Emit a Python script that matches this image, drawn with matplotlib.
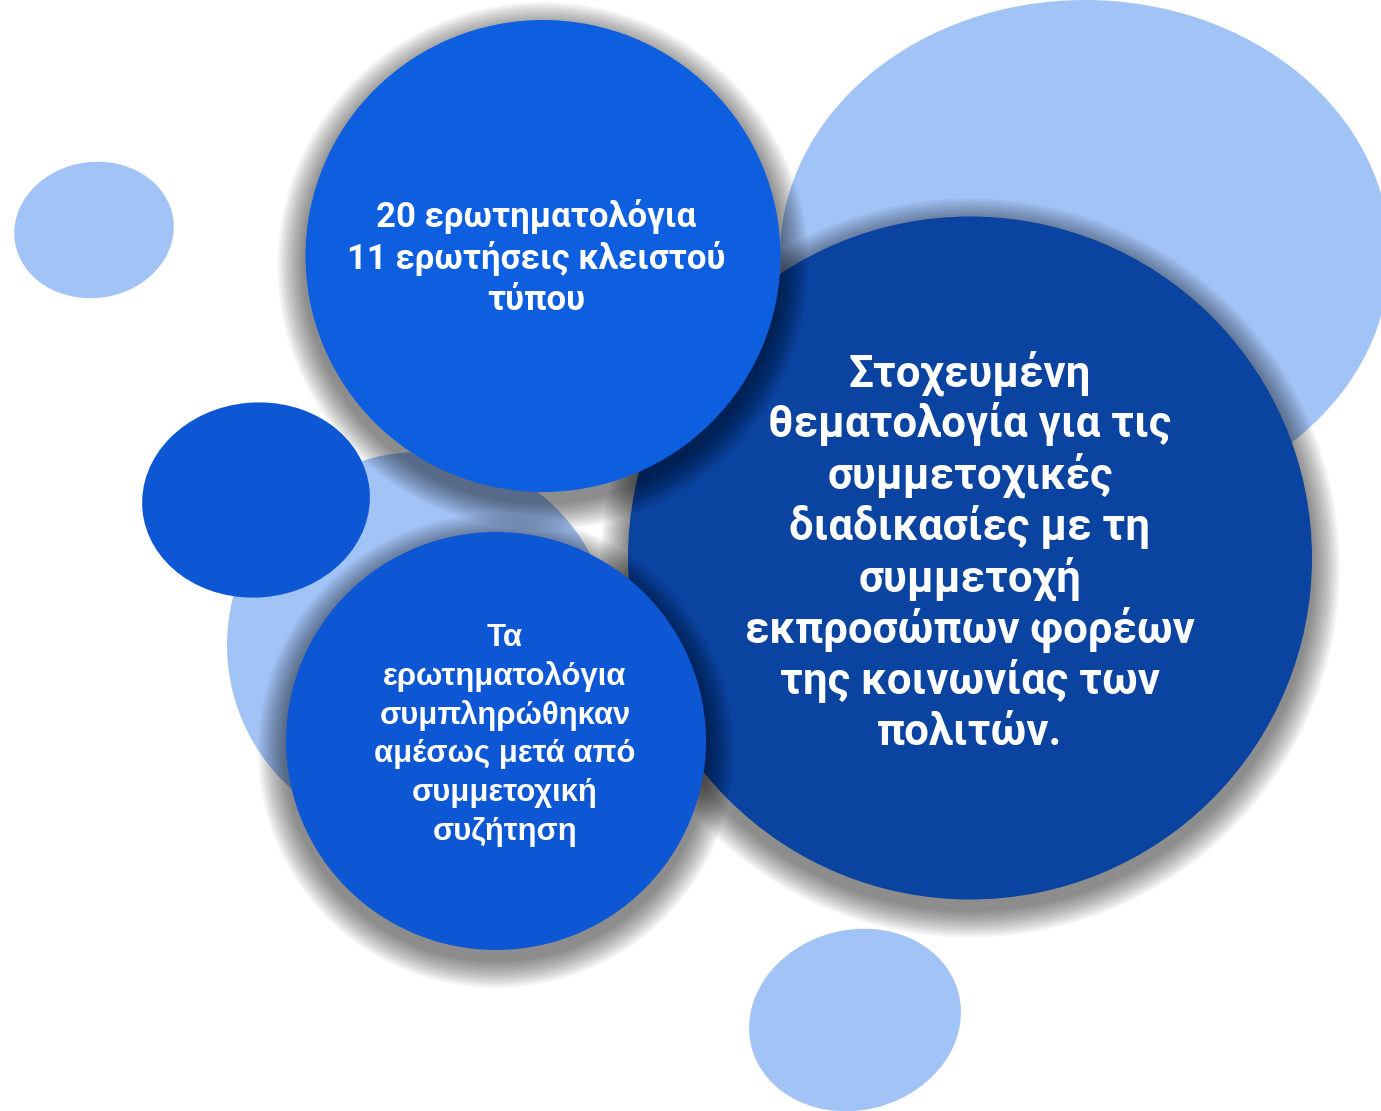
import matplotlib
matplotlib.use("Agg")
import matplotlib.pyplot as plt
from matplotlib.patches import Ellipse

# shapes (pixel space, y down): name, center x, center y, width, height, angle, colour, shadow
names = ["light_tl", "light_bottom", "light_right", "light_mid",
         "dark_big", "blue_top", "blue_left", "blue_bottom"]
cx = [94, 855, 1085, 420, 970, 543, 256, 496]
cy = [230, 1020, 255, 645, 558, 256, 500, 741]
w = [160, 214, 610, 386, 684, 475, 228, 420]
h = [136, 180, 510, 386, 683, 472, 195, 418]
ang = [-8, -15, 0, 0, 0, 0, -5, 0]
colors = ["#a2c3f6", "#a2c3f6", "#a2c3f6", "#a2c3f6",
          "#0b43a0", "#0e5fdf", "#0d57d4", "#0d57d4"]
shadow = [False, False, False, False, True, True, False, True]

# texts
top_lines = ["20 ερωτηματολόγια", "11 ερωτήσεις κλειστού", "τύπου"]
right_lines = ["Στοχευμένη", "θεματολογία για τις", "συμμετοχικές",
               "διαδικασίες με τη", "συμμετοχή", "εκπροσώπων φορέων",
               "της κοινωνίας των", "πολιτών."]
bottom_lines = ["Τα", "ερωτηματολόγια", "συμπληρώθηκαν",
                "αμέσως μετά από", "συμμετοχική", "συζήτηση"]

fig = plt.figure(figsize=(13.81, 11.11), dpi=100)
ax = fig.add_axes([0, 0, 1, 1])
ax.set_xlim(0, 1381)
ax.set_ylim(1111, 0)
ax.axis("off")

z = 1
for i in range(len(names)):
    if shadow[i]:
        # soft shadow: stacked transparent ellipses, shifted down a bit
        for k in range(14):
            grow = 2 * (28 - 2 * k)
            ax.add_patch(Ellipse((cx[i], cy[i] + 10), w[i] + grow, h[i] + grow,
                                 angle=ang[i], facecolor="black", edgecolor="none",
                                 alpha=0.04, zorder=z))
        z += 1
    ax.add_patch(Ellipse((cx[i], cy[i]), w[i], h[i], angle=ang[i],
                         facecolor=colors[i], edgecolor="none", zorder=z))
    z += 1

def block(lines, x, y0, pitch, size, fam):
    for j, s in enumerate(lines):
        ax.text(x, y0 + j * pitch, s, ha="center", va="baseline", color="white",
                fontsize=size, fontweight="bold", family=fam, zorder=50)

block(top_lines, 536, 227, 41.5, 25, ["Roboto", "DejaVu Sans"])
block(right_lines, 970, 386, 51.3, 31.5, ["Roboto", "DejaVu Sans"])
block(bottom_lines, 505, 646, 38.8, 22.4, ["Liberation Sans", "DejaVu Sans"])

fig.savefig("out.png", dpi=100)
